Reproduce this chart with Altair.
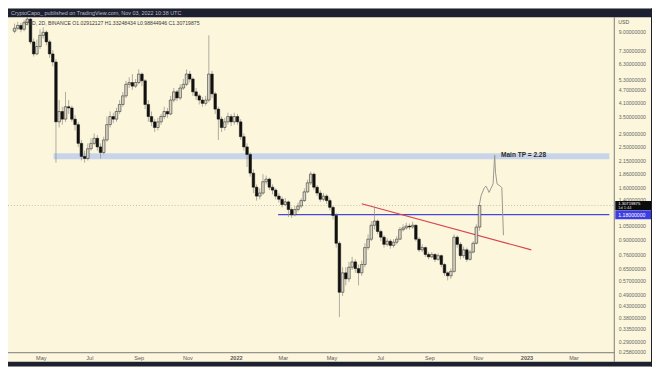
import altair as alt
import pandas as pd
import numpy as np

# ---------------- data (4-day candles, last one 2022-11-03) ----------------
last_date = "2022-11-03"
first_open = 9.0
closes = [9.3, 9.6, 9.2, 9.9, 10.3, 8.0, 7.0, 7.6, 8.6, 8.9,
          8.0, 7.0, 6.4, 3.3, 3.7, 3.4, 3.9, 3.85, 3.4, 3.2,
          2.6, 2.25, 2.2, 2.45, 2.6, 2.75, 2.5, 2.35, 2.7, 3.2,
          3.5, 3.4, 3.7, 4.0, 4.4, 5.0, 5.1, 4.9, 5.1, 5.6,
          5.2, 4.0, 3.5, 3.3, 3.1, 3.3, 3.5, 3.7, 3.6, 4.2,
          4.6, 4.3, 4.8, 5.0, 5.6, 5.3, 4.6, 4.4, 4.2, 4.05,
          4.2, 5.6, 4.5, 3.8, 3.4, 3.1, 3.3, 3.5, 3.3, 3.5,
          3.3, 2.8, 2.5, 2.3, 1.87, 1.6, 1.45, 1.5, 1.7, 1.75,
          1.6, 1.55, 1.45, 1.4, 1.32, 1.36, 1.25, 1.18, 1.25, 1.3,
          1.38, 1.52, 1.68, 1.85, 1.6, 1.5, 1.4, 1.45, 1.38, 1.28,
          1.17, 0.86, 0.5, 0.62, 0.58, 0.66, 0.7, 0.65, 0.62, 0.68,
          0.82, 0.9, 1.05, 1.1, 0.98, 0.92, 0.85, 0.88, 0.84, 0.87,
          0.9, 1.0, 1.02, 1.04, 1.03, 1.05, 0.9, 0.8, 0.82, 0.76,
          0.74, 0.76, 0.72, 0.75, 0.68, 0.62, 0.6, 0.63, 0.92, 0.85,
          0.75, 0.8, 0.72, 0.78, 0.86, 1.02912127, 1.30719875]
highs = [9.8, 10.0, 9.9, 10.2, 10.5, 10.4, 8.3, 8.2, 9.2, 9.4,
         9.1, 8.2, 7.3, 6.6, 4.2, 3.9, 4.6, 4.2, 3.95, 3.55,
         3.3, 2.7, 2.4, 2.6, 2.75, 2.9, 2.85, 2.6, 2.8, 3.5,
         3.7, 3.65, 3.85, 4.2, 4.6, 5.2, 5.4, 5.6, 5.3, 5.9,
         5.7, 5.3, 4.2, 3.7, 3.4, 3.45, 3.6, 3.9, 3.85, 4.4,
         4.8, 4.7, 5.0, 5.3, 5.9, 5.8, 5.4, 4.8, 4.5, 4.35,
         4.4, 8.6, 5.8, 4.6, 3.9, 3.5, 3.45, 3.65, 3.6, 3.65,
         3.6, 3.4, 2.9, 2.6, 2.35, 1.95, 1.65, 1.58, 1.85, 1.82,
         1.78, 1.65, 1.58, 1.5, 1.44, 1.42, 1.38, 1.28, 1.3, 1.35,
         1.42, 1.58, 1.74, 1.9, 1.88, 1.64, 1.55, 1.5, 1.48, 1.42,
         1.3, 1.2, 0.88, 0.66, 0.66, 0.7, 0.74, 0.72, 0.68, 0.71,
         0.86, 0.95, 1.1, 1.29, 1.12, 1.0, 0.94, 0.91, 0.9, 0.9,
         0.93, 1.03, 1.06, 1.08, 1.07, 1.09, 1.06, 0.92, 0.85, 0.83,
         0.78, 0.78, 0.77, 0.77, 0.76, 0.69, 0.63, 0.65, 0.95, 0.94,
         0.87, 0.83, 0.82, 0.8, 0.88, 1.06, 1.33248434]
lows = [8.8, 9.1, 8.9, 9.0, 9.6, 7.8, 6.8, 6.9, 7.4, 8.3,
        7.7, 6.7, 6.1, 2.1, 3.1, 3.2, 3.3, 3.6, 3.3, 3.0,
        2.5, 2.15, 2.1, 2.15, 2.4, 2.55, 2.4, 2.2, 2.3, 2.65,
        3.1, 3.25, 3.3, 3.6, 3.9, 4.3, 4.8, 4.7, 4.8, 5.0,
        4.9, 3.8, 3.3, 3.15, 2.95, 3.0, 3.2, 3.4, 3.45, 3.55,
        4.1, 4.15, 4.2, 4.7, 4.9, 5.1, 4.4, 4.2, 4.0, 3.9,
        3.95, 4.1, 4.3, 3.6, 2.7, 2.95, 3.0, 3.2, 3.15, 3.2,
        3.2, 2.7, 2.4, 2.0, 1.8, 1.5, 1.38, 1.4, 1.47, 1.65,
        1.55, 1.48, 1.4, 1.35, 1.28, 1.3, 1.15, 1.14, 1.16, 1.22,
        1.27, 1.36, 1.5, 1.64, 1.55, 1.45, 1.36, 1.37, 1.33, 1.24,
        1.12, 0.82, 0.38, 0.48, 0.54, 0.56, 0.64, 0.62, 0.54, 0.6,
        0.66, 0.8, 0.88, 1.0, 0.95, 0.88, 0.82, 0.83, 0.81, 0.82,
        0.85, 0.89, 0.98, 1.0, 1.0, 1.01, 0.88, 0.78, 0.78, 0.74,
        0.72, 0.73, 0.7, 0.71, 0.66, 0.6, 0.57, 0.58, 0.62, 0.82,
        0.72, 0.73, 0.7, 0.71, 0.77, 0.85, 0.98844946]

# annotations
band_start, band_end = "2021-05-17", "2023-04-15"
band_low, band_high = 2.18, 2.33
level_start, level_price = "2022-02-23", 1.18
trend_dates = ["2022-06-08", "2023-01-07"]
trend_prices = [1.332, 0.80]
proj_dates = ["2022-11-03", "2022-11-05", "2022-11-09", "2022-11-11", "2022-11-13",
              "2022-11-15", "2022-11-17", "2022-11-20", "2022-11-22", "2022-11-23",
              "2022-11-25", "2022-11-29", "2022-12-01", "2022-12-03"]
proj_prices = [1.33, 1.46, 1.59, 1.62, 1.57, 1.51, 1.57, 1.66, 2.28, 1.89,
               1.66, 1.62, 1.59, 0.94]
tp_label_date, tp_price, tp_text = "2022-11-30", 2.28, "Main TP = 2.28"
last_price = 1.30719875

y_ticks = [9.0, 7.3, 6.3, 5.3, 4.7, 4.1, 3.5, 2.9, 2.5, 2.15, 1.86, 1.6, 1.4,
           1.05, 0.9, 0.76, 0.65, 0.57, 0.49, 0.43, 0.38, 0.335, 0.29, 0.258]
x_ticks = [(2021, 5), (2021, 7), (2021, 9), (2021, 11), (2022, 1), (2022, 3),
           (2022, 5), (2022, 7), (2022, 9), (2022, 11), (2023, 1), (2023, 3)]

header = "CryptoCapo_ published on TradingView.com, Nov 03, 2022 10:38 UTC"
legend_line = "USD, 2D, BINANCE   O1.02912127  H1.33248434  L0.98844946  C1.30719875"

# ---------------- layout / style ----------------
W, H = 611, 338
PT, PB, PR = 8, 13, 38
CREAM = "#fcf6dc"
DARK = "#1d2030"
FONT = "Liberation Sans"
AX = "#7a7a7a"

dates = pd.date_range(end=last_date, periods=len(closes), freq="4D")
opens = [first_open] + closes[:-1]
df = pd.DataFrame({"date": dates, "open": opens, "close": closes,
                   "high": highs, "low": lows})
df["dir"] = np.where(df["close"] >= df["open"], "up", "down")

xscale = alt.Scale(domain=[alt.DateTime(year=2021, month=3, date=27),
                           alt.DateTime(year=2023, month=4, date=15)])
yscale = alt.Scale(type="log", domain=[0.256, 10.5], nice=False, zero=False)

x_axis = alt.Axis(
    values=[alt.DateTime(year=y, month=m, date=1) for y, m in x_ticks],
    labelExpr="month(datum.value)==0 ? timeFormat(datum.value,'%Y') : timeFormat(datum.value,'%b')",
    labelFontWeight={"condition": {"test": "month(datum.value)==0", "value": "bold"}, "value": "normal"},
    title=None, ticks=False, domain=False, grid=False, labelFontSize=5.6,
    labelColor="#5a5a5a", labelFont=FONT, labelPadding=3, labelFlush=False,
    labelOverlap=False, zindex=0)
y_axis = alt.Axis(
    orient="right", values=y_ticks, format=".8f", title=None, ticks=False,
    domain=False, grid=False, labelFontSize=5.2, labelColor="#666666",
    labelFont=FONT, labelPadding=4, labelOverlap=False, labelFlush=False,
    labelBound=False, zindex=0)


def X(field):
    return alt.X(field, scale=xscale, axis=x_axis)


def Y(field):
    return alt.Y(field, scale=yscale, axis=y_axis)


one = pd.DataFrame({"k": [0]})

frame_top = alt.Chart(one).mark_rect(color=DARK).encode(
    x=alt.value(-1), x2=alt.value(W + PR + 1), y=alt.value(-PT - 1), y2=alt.value(0))
frame_bottom = alt.Chart(one).mark_rect(color=DARK).encode(
    x=alt.value(-1), x2=alt.value(W + PR + 1), y=alt.value(H + 9), y2=alt.value(H + PB + 1))
frame_right = alt.Chart(one).mark_rect(color=DARK).encode(
    x=alt.value(W + 37), x2=alt.value(W + PR + 1), y=alt.value(-PT - 1), y2=alt.value(H + PB + 1))

band_df = pd.DataFrame({"s": [pd.Timestamp(band_start)], "e": [pd.Timestamp(band_end)],
                        "lo": [band_low], "hi": [band_high]})
band = alt.Chart(band_df).mark_rect(color="#c8d4ea").encode(
    x=X("s:T"), x2="e:T", y=Y("lo:Q"), y2="hi:Q")

level_df = pd.DataFrame({"s": [pd.Timestamp(level_start)], "e": [pd.Timestamp(band_end)],
                         "p": [level_price]})
level = alt.Chart(level_df).mark_rule(color="#4646d8", strokeWidth=1.2).encode(
    x=X("s:T"), x2="e:T", y=Y("p:Q"))

lp_df = pd.DataFrame({"p": [last_price]})
lastline = alt.Chart(lp_df).mark_rule(color="#bdb6a0", strokeWidth=0.8,
                                      strokeDash=[1, 2]).encode(
    x=alt.value(0), x2=alt.value(W), y=Y("p:Q"))

trend_df = pd.DataFrame({"d": pd.to_datetime(trend_dates), "p": trend_prices})
trend = alt.Chart(trend_df).mark_line(color="#d9434e", strokeWidth=1.2).encode(
    x=X("d:T"), y=Y("p:Q"))

wicks = alt.Chart(df).mark_rule(color="#8f8c84", strokeWidth=0.7).encode(
    x=X("date:T"), y=Y("low:Q"), y2="high:Q")

bodies = alt.Chart(df).mark_bar(size=2.6, strokeWidth=0.5).encode(
    x=X("date:T"), y=Y("open:Q"), y2="close:Q",
    color=alt.Color("dir:N", scale=alt.Scale(domain=["up", "down"],
                                             range=["#d9d4c4", "#111111"]), legend=None),
    stroke=alt.Stroke("dir:N", scale=alt.Scale(domain=["up", "down"],
                                               range=["#1a1a1a", "#111111"]), legend=None))

proj_df = pd.DataFrame({"d": pd.to_datetime(proj_dates), "p": proj_prices,
                        "o": list(range(len(proj_dates)))})
proj = alt.Chart(proj_df).mark_line(color="#9a978e", strokeWidth=1).encode(
    x=X("d:T"), y=Y("p:Q"), order="o:Q")

tp_df = pd.DataFrame({"d": [pd.Timestamp(tp_label_date)], "p": [tp_price], "t": [tp_text]})
tp = alt.Chart(tp_df).mark_text(align="left", baseline="middle", fontSize=6.6,
                                fontWeight="bold", font=FONT, color="#2b2b2b").encode(
    x=X("d:T"), y=Y("p:Q"), text="t:N")

vline = alt.Chart(one).mark_rule(color=AX, strokeWidth=1).encode(
    x=alt.value(W), y=alt.value(0), y2=alt.value(H + 9))
hline = alt.Chart(one).mark_rule(color=AX, strokeWidth=1).encode(
    x=alt.value(0), x2=alt.value(W), y=alt.value(H))

blue_df = pd.DataFrame({"p": [level_price], "t": ["1.18000000"]})
blue_box = alt.Chart(blue_df).mark_rect(height=9, color="#3d3de0").encode(
    x=alt.value(W + 1), x2=alt.value(W + 37), y=Y("p:Q"))
blue_txt = alt.Chart(blue_df).mark_text(align="left", baseline="middle", fontSize=5.2,
                                        font=FONT, color="white").encode(
    x=alt.value(W + 4), y=Y("p:Q"), text="t:N")

black_df = pd.DataFrame({"p": [last_price], "t": ["1.30719875"], "c": ["1d 1:44"]})
black_box = alt.Chart(black_df).mark_rect(height=9, color="#0c0c0c").encode(
    x=alt.value(W + 1), x2=alt.value(W + 37), y=Y("p:Q"))
black_t1 = alt.Chart(black_df).mark_text(align="left", baseline="middle", fontSize=4.2,
                                         font=FONT, color="white", dy=-1.2).encode(
    x=alt.value(W + 4), y=Y("p:Q"), text="t:N")
black_t2 = alt.Chart(black_df).mark_text(align="left", baseline="middle", fontSize=4.0,
                                         font=FONT, color="#dddddd", dy=2.9).encode(
    x=alt.value(W + 4), y=Y("p:Q"), text="c:N")

usd = alt.Chart(one).mark_text(align="left", baseline="middle", fontSize=5.2,
                               font=FONT, color="#555555").encode(
    x=alt.value(W + 4), y=alt.value(5), text=alt.value("USD"))
head = alt.Chart(one).mark_text(align="left", baseline="middle", fontSize=5.5,
                                font=FONT, color="#b9bdc9").encode(
    x=alt.value(3), y=alt.value(-4), text=alt.value(header))
leg = alt.Chart(one).mark_text(align="left", baseline="middle", fontSize=5.2,
                               font=FONT, color="#3a3a3a").encode(
    x=alt.value(17), y=alt.value(6), text=alt.value(legend_line))

chart = alt.layer(
    band, level, lastline, trend, wicks, bodies, proj, tp,
    vline, hline, black_box, black_t1, black_t2, blue_box, blue_txt,
    frame_top, frame_bottom, frame_right, usd, head, leg
).resolve_scale(color="independent", stroke="independent").properties(
    width=W, height=H,
    autosize=alt.AutoSizeParams(type="none"),
    padding={"left": 0, "top": PT, "right": PR, "bottom": PB},
    background=CREAM,
).configure_view(stroke=None, fill=None)

chart.save("out.html", embed_options={"renderer": "svg", "actions": False})
